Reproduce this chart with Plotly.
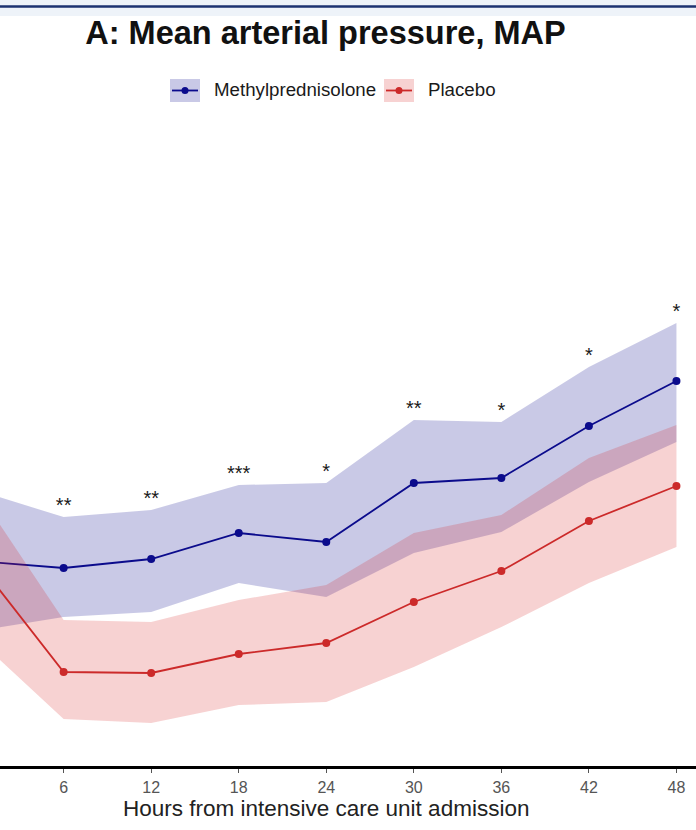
import plotly.graph_objects as go

# Hours from ICU admission
hours = [0, 6, 12, 18, 24, 30, 36, 42, 48]

# Mean arterial pressure (mmHg): mean with 95% CI band
mp_mean = [82.5, 81.8, 82.7, 85.3, 84.4, 90.3, 90.8, 96.0, 100.5]
mp_upper = [89.6, 86.9, 87.6, 90.1, 90.3, 96.6, 96.4, 101.9, 106.3]
mp_lower = [75.5, 76.9, 77.4, 80.3, 78.9, 83.3, 85.4, 90.4, 94.4]

pl_mean = [82.6, 71.4, 71.3, 73.2, 74.3, 78.4, 81.5, 86.5, 90.0]
pl_upper = [89.7, 76.6, 76.4, 78.6, 80.1, 85.3, 87.1, 92.8, 96.1]
pl_lower = [74.8, 66.7, 66.3, 68.1, 68.4, 71.9, 75.9, 80.3, 83.9]

# Significance markers between groups at each time point
sig_hours = [6, 12, 18, 24, 30, 36, 42, 48]
sig_labels = ["**", "**", "***", "*", "**", "*", "*", "*"]
tick_hours = [0, 6, 12, 18, 24, 30, 36, 42, 48]

W, H = 696, 830
TOP, BOTTOM = 110, 766
FONT = "Liberation Sans, Arial, sans-serif"

BLUE = "#0b0b8c"
RED = "#cc2a2a"
BLUE_FILL = "rgba(0,0,139,0.21)"
RED_FILL = "rgba(215,30,30,0.20)"


def px_x(q):
    return q / W


def px_y(p):
    return (BOTTOM - p) / (BOTTOM - TOP)


fig = go.Figure()


def add_group(mean, upper, lower, line_col, fill_col, name):
    fig.add_trace(go.Scatter(
        x=hours + hours[::-1], y=upper + lower[::-1],
        fill="toself", fillcolor=fill_col, line=dict(width=0),
        mode="lines", hoverinfo="skip", showlegend=False, name=name + " CI"))
    fig.add_trace(go.Scatter(
        x=hours, y=mean, mode="lines+markers", name=name,
        line=dict(color=line_col, width=1.8),
        marker=dict(color=line_col, size=8), showlegend=False))


add_group(mp_mean, mp_upper, mp_lower, BLUE, BLUE_FILL, "Methylprednisolone")
add_group(pl_mean, pl_upper, pl_lower, RED, RED_FILL, "Placebo")

# Stars above the methylprednisolone band
star_y = [mp_upper[hours.index(h)] + 1.0 for h in sig_hours]
fig.add_trace(go.Scatter(
    x=sig_hours, y=star_y, mode="text", text=sig_labels,
    textposition="middle center",
    textfont=dict(family=FONT, size=20, color="#1a1a1a"),
    hoverinfo="skip", showlegend=False))

shapes = []
# Header strip
shapes.append(dict(type="rect", xref="paper", yref="paper",
                   x0=0, x1=1, y0=px_y(16), y1=px_y(0),
                   fillcolor="#eef3f9", line=dict(width=0), layer="below"))
shapes.append(dict(type="line", xref="paper", yref="paper",
                   x0=0, x1=1, y0=px_y(6.5), y1=px_y(6.5),
                   line=dict(color="#1c3270", width=2.5)))

# Legend keys
legend_items = [("Methylprednisolone", BLUE, BLUE_FILL, 170),
                ("Placebo", RED, RED_FILL, 384)]
annotations = []
for label, lc, fc, left in legend_items:
    shapes.append(dict(type="rect", xref="paper", yref="paper",
                       x0=px_x(left), x1=px_x(left + 30),
                       y0=px_y(102), y1=px_y(79),
                       fillcolor=fc, line=dict(width=0)))
    shapes.append(dict(type="line", xref="paper", yref="paper",
                       x0=px_x(left + 2), x1=px_x(left + 28),
                       y0=px_y(90.5), y1=px_y(90.5),
                       line=dict(color=lc, width=1.8)))
    shapes.append(dict(type="circle", xref="paper", yref="paper",
                       x0=px_x(left + 11.5), x1=px_x(left + 18.5),
                       y0=px_y(94), y1=px_y(87),
                       fillcolor=lc, line=dict(color=lc, width=0)))
    annotations.append(dict(
        text=label, xref="paper", yref="paper",
        x=px_x(left + 42), y=px_y(89.5), xanchor="left", yanchor="middle",
        showarrow=False, font=dict(family=FONT, size=18.7, color="#1a1a1a")))

# X-axis title, centred under the full panel
annotations.append(dict(
    text="Hours from intensive care unit admission",
    xref="paper", yref="paper", x=px_x(326), y=px_y(808),
    xanchor="center", yanchor="middle", showarrow=False,
    font=dict(family=FONT, size=22.5, color="#222222")))

fig.update_layout(
    width=W, height=H,
    margin=dict(l=0, r=0, t=TOP, b=H - BOTTOM, pad=0),
    paper_bgcolor="white", plot_bgcolor="white",
    title=dict(text="<b>A: Mean arterial pressure, MAP</b>",
               x=325.5 / W, xanchor="center", xref="paper",
               y=1 - 33 / H, yanchor="middle", yref="container",
               font=dict(family=FONT, size=32.5, color="#111111")),
    shapes=shapes, annotations=annotations,
    showlegend=False,
)

fig.update_xaxes(
    range=[1.638, 49.34], tickvals=tick_hours,
    ticktext=[str(h) for h in tick_hours],
    showgrid=False, zeroline=False,
    showline=True, linecolor="black", linewidth=2.5,
    ticks="outside", ticklen=4, tickwidth=1, tickcolor="#555555",
    ticklabelstandoff=1,
    tickfont=dict(family=FONT, size=16, color="#555555"),
)
fig.update_yaxes(range=[62, 62 + (BOTTOM - TOP) / 10],
                 visible=False, showgrid=False, zeroline=False)

fig.write_html("out.html")
